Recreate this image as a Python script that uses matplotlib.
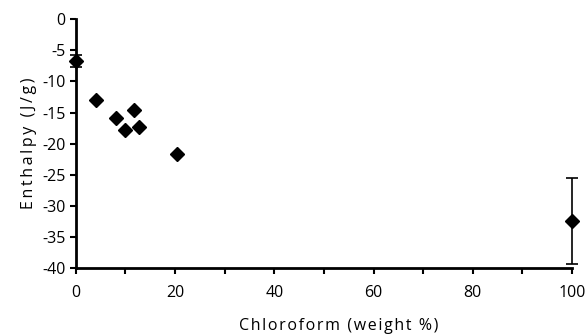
import matplotlib
matplotlib.use("Agg")
import matplotlib.pyplot as plt

# chloroform content (weight %) and enthalpy (J/g)
chloroform = [0, 4, 8, 10, 11.8, 12.7, 20.4, 100]
enthalpy = [-6.7, -13.0, -15.9, -17.8, -14.6, -17.4, -21.7, -32.5]
err = [1.0, 0, 0, 0, 0, 0, 0, 6.9]

plt.rcParams['font.family'] = ['Open Sans', 'DejaVu Sans']
plt.rcParams['axes.unicode_minus'] = False


def spaced(s, gap='\u200a'):
    # loose letter spacing like the original scan
    return gap.join(s)


fig = plt.figure(figsize=(5.88, 3.36), dpi=100)
ax = fig.add_axes([0.129, 0.202, 0.844, 0.741])

ax.errorbar(chloroform, enthalpy, yerr=err, fmt='D', color='black',
            markersize=7, ecolor='black', elinewidth=1.2, capsize=4,
            capthick=1.2, clip_on=False, zorder=3)

ax.set_xlim(0, 100)
ax.set_ylim(-40, 0)
ax.set_xticks(range(0, 101, 20))
ax.set_xticks(range(0, 101, 10), minor=True)
ax.set_yticks(range(-40, 1, 5))
for s in ['top', 'right']:
    ax.spines[s].set_visible(False)
for s in ['left', 'bottom']:
    ax.spines[s].set_linewidth(2)
ax.tick_params(which='both', direction='out', width=1.5, length=4, labelsize=11.5)
ax.tick_params(axis='x', pad=8)

ax.set_xlabel(spaced('Chloroform (weight %)'), fontsize=11.5)
ax.xaxis.set_label_coords(0.53, -0.2)
ax.set_ylabel(spaced('Enthalpy (J/g)', '\u2009'), fontsize=11.5, labelpad=4)

fig.savefig('out.png', dpi=100)
